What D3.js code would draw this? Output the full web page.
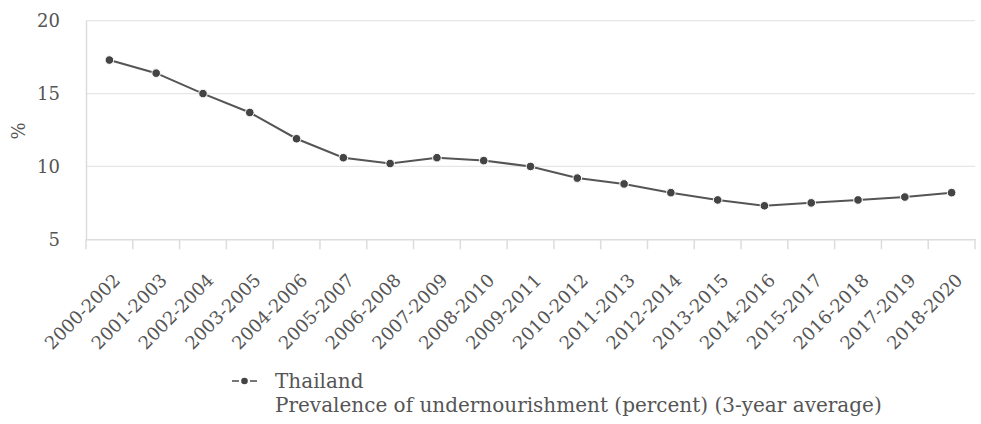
<!DOCTYPE html>
<html><head><meta charset="utf-8">
<script src="https://cdn.jsdelivr.net/npm/d3@7"></script>
<style>body{margin:0;background:#fff}svg{display:block}</style>
</head><body>
<svg id="c" width="981" height="424"></svg>
<script>
const categories = ["2000-2002","2001-2003","2002-2004","2003-2005","2004-2006","2005-2007","2006-2008","2007-2009","2008-2010","2009-2011","2010-2012","2011-2013","2012-2014","2013-2015","2014-2016","2015-2017","2016-2018","2017-2019","2018-2020"];
const values = [17.3,16.4,15.0,13.7,11.9,10.6,10.2,10.6,10.4,10.0,9.2,8.8,8.2,7.7,7.3,7.5,7.7,7.9,8.2];
const yTicks = [5,10,15,20];
const seriesName = "Thailand";
const indicator = "Prevalence of undernourishment (percent) (3-year average)";

const font = "DejaVu Serif";
const svg = d3.select("#c");
const L = 86, R = 975, T = 20.7, B = 239.3;
const x = d3.scaleBand().domain(categories).range([L, R]);
const y = d3.scaleLinear().domain([5, 20]).range([B, T]);

// gridlines
svg.append("g").selectAll("line").data(yTicks.filter(d => d > 5)).join("line")
  .attr("x1", L).attr("x2", R).attr("y1", d => y(d)).attr("y2", d => y(d))
  .attr("stroke", "#e6e6e6").attr("stroke-width", 1.2);

// y axis
const ya = svg.append("g").attr("transform", `translate(${L},0)`)
  .call(d3.axisLeft(y).tickValues(yTicks).tickSize(0).tickPadding(26));
ya.select(".domain").attr("stroke", "#dcdcdc").attr("stroke-width", 1.5);
ya.selectAll("text").attr("font-family", font).attr("font-size", 18).attr("fill", "#555");

// x axis
const xa = svg.append("g").attr("transform", `translate(0,${B})`)
  .call(d3.axisBottom(x).tickSizeInner(0).tickSizeOuter(0));
xa.select(".domain").attr("stroke", "#dcdcdc").attr("stroke-width", 1.5);
xa.selectAll(".tick line").remove();
// band boundary ticks
const edges = categories.map(d => x(d)).concat([x(categories[categories.length-1]) + x.bandwidth()]);
svg.append("g").selectAll("line").data(edges).join("line")
  .attr("x1", d => d).attr("x2", d => d)
  .attr("y1", B).attr("y2", B + 10).attr("stroke", "#dcdcdc").attr("stroke-width", 1.5);
xa.selectAll(".tick text")
  .attr("font-family", font).attr("font-size", 18).attr("fill", "#555")
  .attr("text-anchor", "end").attr("dy", null).attr("y", 0)
  .attr("transform", "translate(12,42) rotate(-45)");

// y label
svg.append("text").attr("transform", "translate(24.5,131) rotate(-90)")
  .attr("text-anchor", "middle").attr("font-family", font).attr("font-size", 18)
  .attr("fill", "#555").text("%");

// line
const cx = d => x(d) + x.bandwidth() / 2;
svg.append("path").datum(values)
  .attr("fill", "none").attr("stroke", "#555").attr("stroke-width", 2)
  .attr("d", d3.line().x((d, i) => cx(categories[i])).y(d => y(d)));
svg.append("g").selectAll("circle").data(values).join("circle")
  .attr("cx", (d, i) => cx(categories[i])).attr("cy", d => y(d)).attr("r", 4.3)
  .attr("fill", "#444").attr("stroke", "#fff").attr("stroke-width", 1);

// legend
const lg = svg.append("g");
lg.append("line").attr("x1", 232).attr("x2", 239).attr("y1", 381).attr("y2", 381)
  .attr("stroke", "#555").attr("stroke-width", 1.6);
lg.append("line").attr("x1", 250).attr("x2", 257).attr("y1", 381).attr("y2", 381)
  .attr("stroke", "#555").attr("stroke-width", 1.6);
lg.append("circle").attr("cx", 244.5).attr("cy", 381).attr("r", 3.3).attr("fill", "#444");
lg.append("text").attr("x", 275).attr("y", 388).attr("font-family", font).attr("font-size", 20)
  .attr("fill", "#555").text(seriesName);
lg.append("text").attr("x", 275).attr("y", 412).attr("font-family", font).attr("font-size", 20)
  .attr("fill", "#555").text(indicator);
</script>
</body></html>
